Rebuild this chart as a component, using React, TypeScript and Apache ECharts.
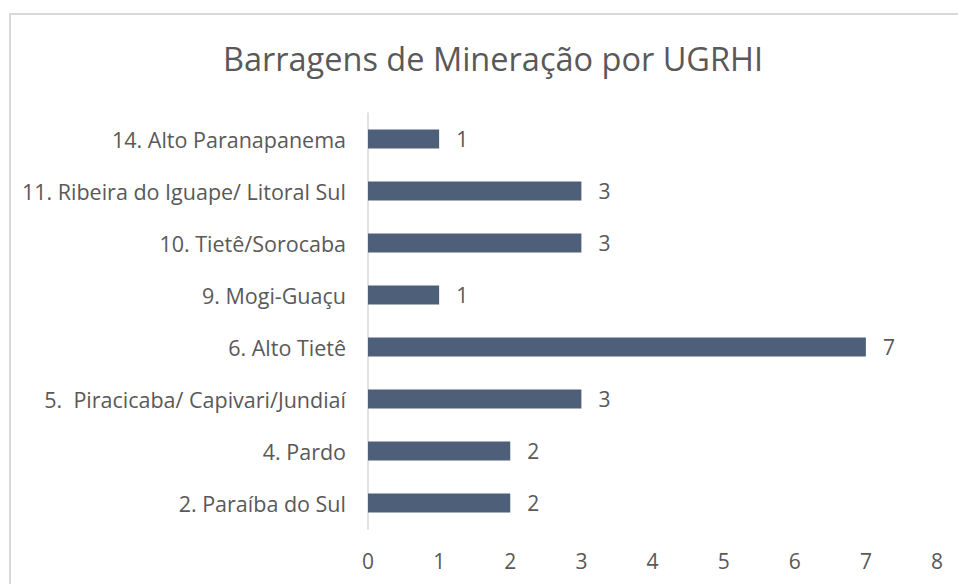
import React, { useEffect, useRef } from "react";
import * as echarts from "echarts";

const TITLE = "Barragens de Mineração por UGRHI";
const categories = [
  "14. Alto Paranapanema",
  "11. Ribeira do Iguape/ Litoral Sul",
  "10. Tietê/Sorocaba",
  "9. Mogi-Guaçu",
  "6. Alto Tietê",
  "5.  Piracicaba/ Capivari/Jundiaí",
  "4. Pardo",
  "2. Paraíba do Sul",
];
const values = [1, 3, 3, 1, 7, 3, 2, 2];
const xMin = 0;
const xMax = 8;
const xInterval = 1;

const FONT = "Open Sans";
const TEXT = "#595959";

export default function App() {
  const ref = useRef<HTMLDivElement>(null);
  useEffect(() => {
    if (!ref.current) return;
    const chart = echarts.init(ref.current, undefined, { renderer: "svg" });
    chart.setOption({
      animation: false,
      backgroundColor: "#ffffff",
      textStyle: { fontFamily: FONT },
      title: {
        text: TITLE,
        left: 488,
        top: 37,
        textAlign: "center",
        textStyle: { fontFamily: FONT, fontSize: 32.5, fontWeight: "normal", color: TEXT },
      },
      graphic: [
        {
          type: "rect",
          shape: { x: 10, y: 14, width: 1000, height: 700 },
          style: { fill: "none", stroke: "#d9d9d9", lineWidth: 2 },
          silent: true,
        },
      ],
      grid: { left: 368, right: 21, top: 113, bottom: 55, containLabel: false },
      xAxis: {
        type: "value",
        min: xMin,
        max: xMax,
        interval: xInterval,
        axisLine: { show: false },
        axisTick: { show: false },
        splitLine: { show: false },
        axisLabel: { color: TEXT, fontFamily: FONT, fontSize: 21, margin: 21 },
      },
      yAxis: {
        type: "category",
        data: categories,
        inverse: true,
        axisLine: { show: true, lineStyle: { color: "#d9d9d9", width: 1.5 } },
        axisTick: { show: false },
        axisLabel: { color: TEXT, fontFamily: FONT, fontSize: 21.5, margin: 22 },
      },
      series: [
        {
          type: "bar",
          data: values,
          barWidth: 19,
          itemStyle: { color: "#4e5f7a" },
          label: {
            show: true,
            position: "right",
            distance: 17,
            color: TEXT,
            fontFamily: FONT,
            fontSize: 21,
          },
        },
      ],
    });
    return () => chart.dispose();
  }, []);
  return (
    <div
      ref={ref}
      style={{ position: "absolute", left: 0, top: 0, width: 958, height: 584 }}
    />
  );
}
